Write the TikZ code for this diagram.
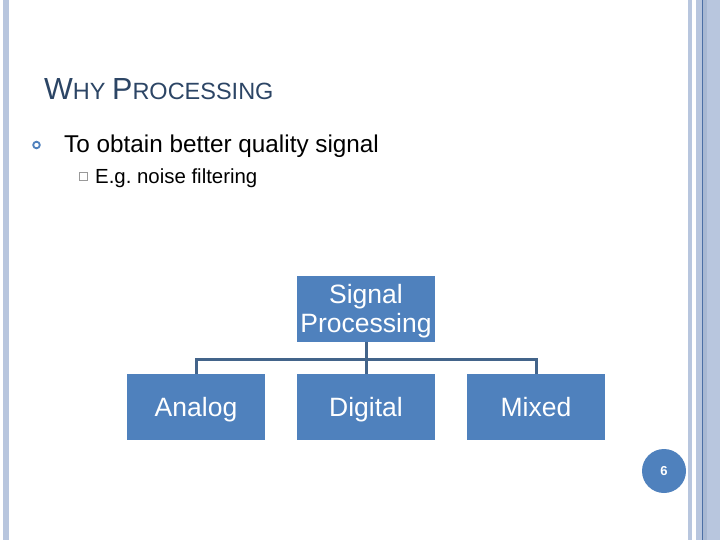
\documentclass[tikz,border=0pt]{standalone}
\usepackage{fontspec}
\setmainfont{Liberation Sans}
\definecolor{boxblue}{HTML}{4F81BD}
\definecolor{linecol}{HTML}{43648A}
\definecolor{titlecol}{HTML}{2C4565}
\definecolor{stripe}{HTML}{B8C6DE}
\definecolor{stripedark}{HTML}{A8B8D2}
\definecolor{stripeline}{HTML}{4C6FA5}
\tikzset{
  boxnode/.style={fill=boxblue, text=white, minimum width=138pt, minimum height=66pt,
    inner sep=0pt, font=\fontsize{26.5}{29}\selectfont, align=center},
  onebox/.style={boxnode, text height=21.5pt, text depth=3.5pt},
  conn/.style={draw=linecol, line width=3pt}
}
\begin{document}
\begin{tikzpicture}[x=1pt,y=-1pt]
\useasboundingbox (0,0) rectangle (720,540);
\fill[white] (0,0) rectangle (720,540);
% side stripes
\fill[stripe] (3,0) rectangle (9,540);
\fill[stripe] (688,0) rectangle (692,540);
\fill[stripe] (696,0) rectangle (720,540);
\fill[stripedark] (703,0) rectangle (707,540);
\fill[stripeline] (702,0) rectangle (703.2,540);
% title
\node[anchor=base west, inner sep=0pt, text=titlecol] (title) at (44,100)
  {\fontsize{30.5}{30}\selectfont W\fontsize{23.5}{22}\selectfont HY \fontsize{30.5}{30}\selectfont P\fontsize{23.5}{22}\selectfont ROCESSING};
% bullets
\draw[boxblue, line width=1.8pt] (36.5,145) circle (3.3);
\node[anchor=base west, inner sep=0pt, font=\fontsize{24.3}{24}\selectfont] (b1) at (64,153) {To obtain better quality signal};
\draw[gray!80, line width=0.7pt] (79,172) rectangle (87,180);
\node[anchor=base west, inner sep=0pt, font=\fontsize{20.4}{20}\selectfont] (b2) at (95,184) {E.g.\ noise filtering};
% boxes
\node[boxnode] (sp) at (366,308.5) {\rule{0pt}{24.5pt}Signal\\Processing};
\node[onebox] (an) at (196,407) {Analog};
\node[onebox] (di) at (366,407) {Digital};
\node[onebox] (mx) at (536,407) {Mixed};
% connectors
\coordinate (j) at (366,359);
\draw[conn] (sp.south) -- (j);
\draw[conn] (an.north) -- (an.north |- j) -- (mx.north |- j) -- (mx.north);
\draw[conn] (j) -- (di.north);
% page number
\node[circle, fill=boxblue, minimum size=44pt, inner sep=0pt, text=white,
  font=\fontsize{13}{13}\selectfont\bfseries] (pg) at (664,471) {6};
\end{tikzpicture}
\end{document}
